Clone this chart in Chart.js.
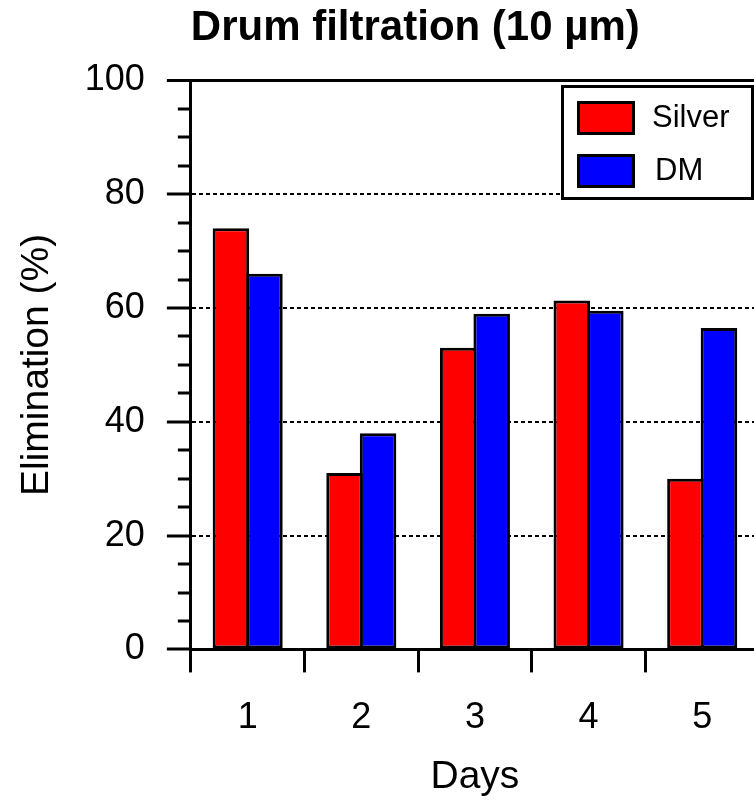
<!DOCTYPE html>
<html>
<head>
<meta charset="utf-8">
<title>Drum filtration (10 µm)</title>
<script src="https://cdn.jsdelivr.net/npm/chart.js@4.4.1/dist/chart.umd.min.js"></script>
<style>
  html, body { margin: 0; padding: 0; background: #fff; overflow: hidden; }
  #chart { display: block; }
</style>
</head>
<body>
<canvas id="chart" width="800" height="802"></canvas>
<script>
// values
const days = ["1", "2", "3", "4", "5"];
const silverValues = [74, 31, 53, 61.3, 30];
const dmValues = [66, 38, 59, 59.5, 56.5];
const yTickLabels = [0, 20, 40, 60, 80, 100];
const dottedLines = [20, 40, 60, 80];

const FONT = "'Liberation Sans', Arial, Helvetica, sans-serif";

function tickValue(ctx) {
  return ctx && ctx.tick ? ctx.tick.value : null;
}

// framed legend in the top right corner, drawn from the datasets
const boxLegend = {
  id: "boxLegend",
  afterDraw(chart, args, opts) {
    const { ctx } = chart;
    ctx.save();
    ctx.fillStyle = "#fff";
    ctx.fillRect(opts.left, opts.top, opts.width, opts.height);
    ctx.strokeStyle = "#000";
    ctx.lineWidth = 3;
    ctx.strokeRect(opts.left + 1.5, opts.top + 1.5, opts.width - 3, opts.height - 3);

    ctx.font = `${opts.fontSize}px ${FONT}`;
    ctx.textBaseline = "middle";
    ctx.textAlign = "left";
    chart.data.datasets.forEach((ds, i) => {
      const y = opts.rowTops[i];
      ctx.fillStyle = "#000";
      ctx.fillRect(opts.swatchLeft, y, opts.swatchWidth, opts.swatchHeight);
      ctx.fillStyle = ds.backgroundColor;
      ctx.fillRect(opts.swatchLeft + 3, y + 3, opts.swatchWidth - 6, opts.swatchHeight - 6);
      ctx.fillStyle = "#000";
      ctx.fillText(ds.label, opts.textLefts[i], y + opts.swatchHeight / 2);
    });
    ctx.restore();
  },
};

new Chart(document.getElementById("chart"), {
  type: "bar",
  data: {
    labels: days,
    datasets: [
      {
        label: "Silver",
        data: silverValues,
        backgroundColor: "#ff0000",
        borderColor: "#000",
        borderWidth: 3,
        borderSkipped: false,
        categoryPercentage: 0.59,
        barPercentage: 1.09,
      },
      {
        label: "DM",
        data: dmValues,
        backgroundColor: "#0000ff",
        borderColor: "#000",
        borderWidth: 3,
        borderSkipped: false,
        categoryPercentage: 0.59,
        barPercentage: 1.09,
      },
    ],
  },
  options: {
    responsive: false,
    animation: false,
    events: [],
    layout: { padding: { left: 14, right: 41, top: 0, bottom: 0 } },
    plugins: {
      legend: { display: false },
      tooltip: { enabled: false },
      title: {
        display: true,
        text: "Drum filtration (10 µm)",
        color: "#000",
        fullSize: false,
        align: "start",
        font: { family: FONT, size: 42, weight: "bold" },
        padding: { top: 3, bottom: 27 },
      },
      boxLegend: {
        left: 561,
        top: 85,
        width: 193,
        height: 115,
        swatchLeft: 577,
        swatchWidth: 58,
        swatchHeight: 34,
        rowTops: [101, 154],
        textLefts: [652, 655],
        fontSize: 31,
      },
    },
    scales: {
      x: {
        grid: {
          offset: true,
          drawOnChartArea: false,
          drawTicks: true,
          tickLength: 23,
          tickWidth: 3,
          tickColor: "#000",
        },
        border: { display: true, color: "#000", width: 3 },
        ticks: { color: "#000", font: { family: FONT, size: 36 }, padding: 24 },
        title: {
          display: true,
          text: "Days",
          color: "#000",
          font: { family: FONT, size: 39, lineHeight: 0.6 },
          padding: { top: 2, bottom: 13 },
        },
      },
      y: {
        min: 0,
        max: 100,
        ticks: {
          stepSize: 5,
          autoSkip: false,
          color: "#000",
          font: { family: FONT, size: 36 },
          padding: 22,
          callback: (value) => (yTickLabels.includes(value) ? String(value) : ""),
        },
        grid: {
          color: (ctx) => {
            const v = tickValue(ctx);
            return dottedLines.includes(v) || v === 100 ? "#000" : "rgba(0,0,0,0)";
          },
          lineWidth: (ctx) => (tickValue(ctx) === 100 ? 3 : 2),
          drawTicks: true,
          tickLength: 24,
          tickWidth: 3,
          tickColor: "#000",
          // minor ticks are shorter: skip the outer part of the tick
          tickBorderDash: (ctx) => (yTickLabels.includes(tickValue(ctx)) ? [] : [0, 11, 40]),
        },
        border: {
          display: true,
          color: "#000",
          width: 3,
          dash: (ctx) => (tickValue(ctx) === 100 ? [] : [4, 3]),
        },
        title: {
          display: true,
          text: "Elimination (%)",
          color: "#000",
          font: { family: FONT, size: 39 },
          padding: { top: 0, bottom: 2 },
        },
      },
    },
  },
  plugins: [boxLegend],
});
</script>
</body>
</html>
